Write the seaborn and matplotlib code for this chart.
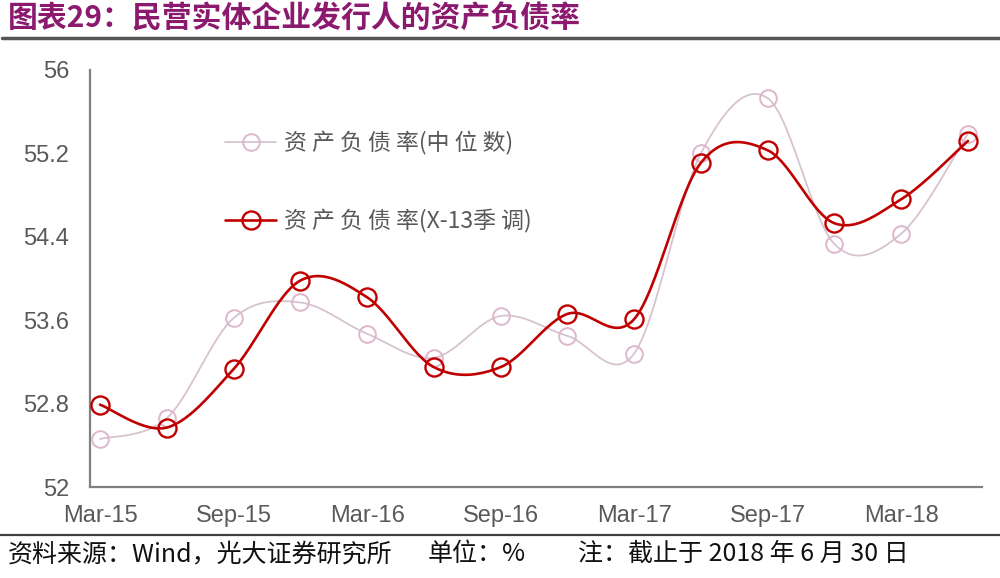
import numpy as np
import pandas as pd
import matplotlib
matplotlib.use('Agg')
import matplotlib.pyplot as plt
from matplotlib.lines import Line2D
import seaborn as sns

# Data
quarters = ['Mar-15', 'Jun-15', 'Sep-15', 'Dec-15', 'Mar-16', 'Jun-16', 'Sep-16',
            'Dec-16', 'Mar-17', 'Jun-17', 'Sep-17', 'Dec-17', 'Mar-18', 'Jun-18']
median_ratio = [52.46, 52.66, 53.62, 53.77, 53.47, 53.24, 53.64,
                53.45, 53.28, 55.20, 55.73, 54.33, 54.43, 55.39]
x13_ratio = [52.79, 52.57, 53.13, 53.98, 53.82, 53.15, 53.15,
             53.66, 53.61, 55.11, 55.23, 54.53, 54.76, 55.32]
y_ticks = [52, 52.8, 53.6, 54.4, 55.2, 56]
y_tick_labels = ['52', '52.8', '53.6', '54.4', '55.2', '56']

title = '图表29：民营实体企业发行人的资产负债率'
label_median = '资 产 负 债 率(中 位 数)'
label_x13 = '资 产 负 债 率(X-13季 调)'
footer_parts = ['资料来源：Wind，光大证券研究所', '单位：%', '注：截止于 2018 年 6 月 30 日']

RED = '#C00000'
PINK_LINE = '#D7C3CF'
PINK_MARK = '#DDB7CB'
GREY = '#808080'
CJK = ['Noto Sans CJK SC', 'DejaVu Sans']


def smooth(xs, ys, n=30):
    # Excel-like smoothed line: Catmull-Rom spline drawn as cubic Bezier segments
    pts = np.column_stack([xs, ys]).astype(float)
    pts = np.vstack([pts[0], pts, pts[-1]])
    out = []
    t = np.linspace(0, 1, n)[:, None]
    for i in range(1, len(pts) - 2):
        p0, p1, p2, p3 = pts[i - 1], pts[i], pts[i + 1], pts[i + 2]
        b1 = p1 + (p2 - p0) / 6
        b2 = p2 - (p3 - p1) / 6
        seg = ((1 - t) ** 3) * p1 + 3 * ((1 - t) ** 2) * t * b1 + 3 * (1 - t) * t ** 2 * b2 + t ** 3 * p2
        out.append(seg if i == 1 else seg[1:])
    seg = np.vstack(out)
    return pd.DataFrame({'x': seg[:, 0], 'y': seg[:, 1]})


def main():
    sns.set_theme(style='white')
    plt.rcParams['font.family'] = CJK

    fig = plt.figure(figsize=(10, 5.78), dpi=100)
    ax = fig.add_axes([0.09, 1 - 487 / 578, 0.892, (487 - 70) / 578])

    idx = np.arange(len(quarters))
    df = pd.DataFrame({'x': idx, 'median': median_ratio, 'x13': x13_ratio})

    # median series (behind)
    sns.lineplot(data=smooth(idx, median_ratio), x='x', y='y', sort=False, ax=ax,
                 color=PINK_LINE, linewidth=1.3, zorder=2)
    sns.lineplot(data=df, x='x', y='median', ax=ax, linestyle='', marker='o',
                 markersize=12, markerfacecolor='none', markeredgecolor=PINK_MARK,
                 markeredgewidth=1.4, zorder=3)

    # X-13 seasonally adjusted series
    sns.lineplot(data=smooth(idx, x13_ratio), x='x', y='y', sort=False, ax=ax,
                 color=RED, linewidth=1.9, zorder=4)
    sns.lineplot(data=df, x='x', y='x13', ax=ax, linestyle='', marker='o',
                 markersize=13, markerfacecolor='none', markeredgecolor=RED,
                 markeredgewidth=1.7, zorder=5)

    ax.set_xlim(-0.15, 13.21)
    ax.set_ylim(52, 56)
    ax.set_xlabel('')
    ax.set_ylabel('')

    # tick marks sit slightly left of the data points, labels centred on points
    ax.set_xticks([2 * k - 0.145 for k in range(7)])
    ax.set_xticklabels([''] * 7)
    ax.set_xticks(idx[::2], minor=True)
    ax.set_xticklabels(quarters[::2], minor=True)
    ax.set_yticks(y_ticks)
    ax.set_yticklabels(y_tick_labels)

    ax.tick_params(axis='both', which='major', direction='in', length=7, width=1.5,
                   color=GREY, labelsize=17, labelcolor='#595959', pad=15)
    ax.tick_params(axis='x', which='minor', length=0, labelsize=17,
                   labelcolor='#595959', pad=13)
    for lab in ax.get_xticklabels(minor=True) + ax.get_yticklabels():
        lab.set_family('Liberation Sans')

    for side in ['top', 'right']:
        ax.spines[side].set_visible(False)
    for side in ['left', 'bottom']:
        ax.spines[side].set_color(GREY)
        ax.spines[side].set_linewidth(1.6)

    handles = [
        Line2D([], [], color=PINK_LINE, linewidth=1.3, marker='o', markersize=12,
               markerfacecolor='none', markeredgecolor=PINK_MARK, markeredgewidth=1.4),
        Line2D([], [], color=RED, linewidth=1.9, marker='o', markersize=13,
               markerfacecolor='none', markeredgecolor=RED, markeredgewidth=1.7),
    ]
    leg = ax.legend(handles, [label_median, label_x13], loc='upper left',
                    bbox_to_anchor=(214 / 1000, 1 - 120 / 578), bbox_transform=fig.transFigure,
                    frameon=False, fontsize=16.5, handlelength=2.2, handletextpad=0.35,
                    labelspacing=2.35, borderpad=0)
    for txt in leg.get_texts():
        txt.set_color('#595959')

    # header / footer
    fig.text(0.008, 1 - 18 / 578, title, fontsize=21.5, fontweight='bold',
             color='#8B1A6E', va='center', ha='left')
    fig.add_artist(Line2D([0.002, 1.0], [1 - 38 / 578, 1 - 38 / 578], transform=fig.transFigure,
                          color='#555555', linewidth=2.5))
    fig.add_artist(Line2D([0.0, 1.0], [1 - 535 / 578, 1 - 535 / 578], transform=fig.transFigure,
                          color='#404040', linewidth=1.6))
    for x_px, part in zip([8, 428, 578], footer_parts):
        fig.text(x_px / 1000, 1 - 554 / 578, part, fontsize=18, color='#111111',
                 va='center', ha='left')

    fig.savefig('out.png', dpi=100, facecolor='white')
    plt.close(fig)


if __name__ == '__main__':
    main()
